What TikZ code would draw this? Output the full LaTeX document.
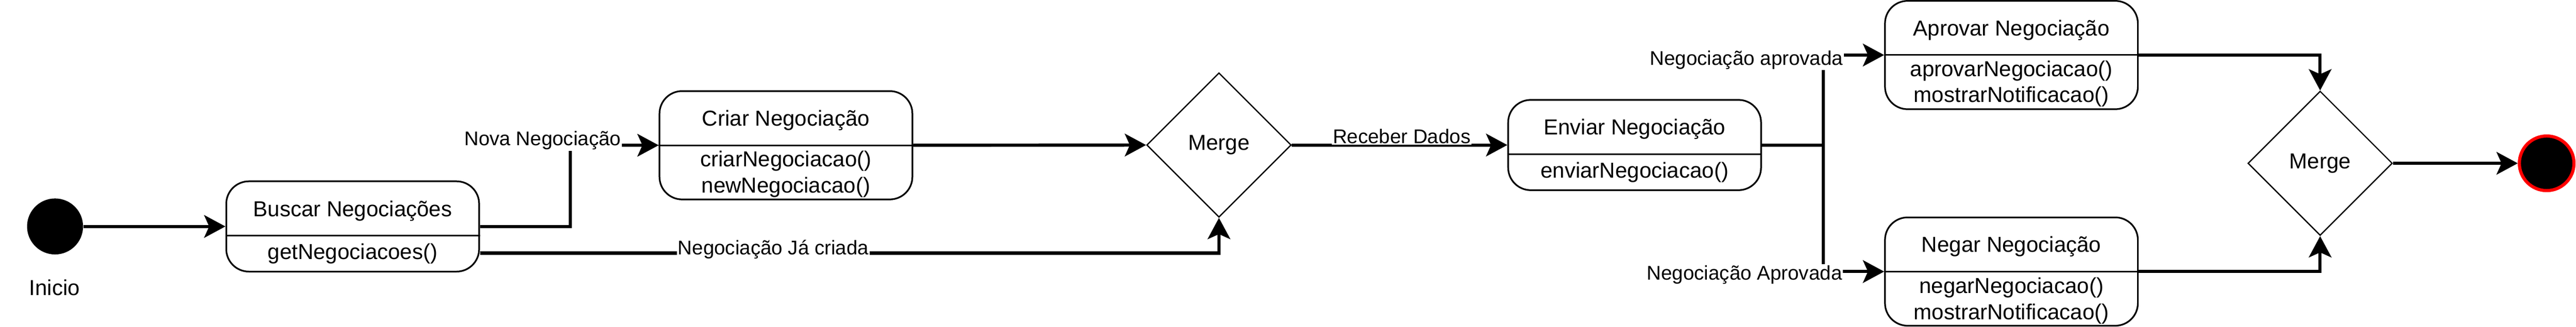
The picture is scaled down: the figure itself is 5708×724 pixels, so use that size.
\documentclass[tikz,border=0pt]{standalone}
\usepackage{fontspec}
\setmainfont{Liberation Sans}
\usepackage{tikz}
\usetikzlibrary{arrows.meta,shapes.geometric}

\begin{document}
\begin{tikzpicture}[x=0.01cm, y=-0.01cm, >={Stealth[length=0.47cm,width=0.5cm,inset=0.11cm]},
  estado/.style={draw, line width=1.05pt, rounded corners=0.5cm, minimum width=5.6cm, inner sep=0},
  divisa/.style={line width=0.95pt},
  merge/.style={draw, diamond, aspect=1, minimum width=3.2cm, minimum height=3.2cm, inner sep=0, line width=0.8pt, font=\fontsize{13.66}{16.4}\selectfont},
  texto/.style={anchor=base, inner sep=0, font=\fontsize{13.66}{16.4}\selectfont},
  rotulo/.style={anchor=base, fill=white, inner sep=0.02cm, font=\fontsize{12.5}{15}\selectfont},
  fluxo/.style={->, line width=2pt}]
  \useasboundingbox (0,0) rectangle (5708,724);

  % inicio
  \node[circle, fill=black, minimum size=1.24cm, inner sep=0] (ini) at (122,502) {};
  \node[texto] (iniT) at (121,655) {Inicio};

  % estados
  \node[estado, minimum height=2cm] (busca) at (781.5,502) {};
  \draw[divisa] (busca.west |- 0,522) -- (busca.east |- 0,522);
  \node[texto] (buscaT) at (781.5,480) {Buscar Negociações};
  \node[texto] (buscaM) at (781.5,575) {getNegociacoes()};

  \node[estado, minimum height=2.4cm] (cria) at (1741.5,322) {};
  \draw[divisa] (cria.west) -- (cria.east);
  \node[texto] (criaT) at (1741.5,279) {Criar Negociação};
  \node[texto] (criaM1) at (1741.5,369) {criarNegociacao()};
  \node[texto] (criaM2) at (1741.5,427) {newNegociacao()};

  \node[merge] (merge1) at (2701,321.5) {Merge};

  \node[estado, minimum height=2cm] (envia) at (3622,321.5) {};
  \draw[divisa] (envia.west |- 0,342) -- (envia.east |- 0,342);
  \node[texto] (enviaT) at (3622,299) {Enviar Negociação};
  \node[texto] (enviaM) at (3622,394) {enviarNegociacao()};

  \node[estado, minimum height=2.4cm] (aprova) at (4457,122) {};
  \draw[divisa] (aprova.west) -- (aprova.east);
  \node[texto] (aprovaT) at (4457,79) {Aprovar Negociação};
  \node[texto] (aprovaM1) at (4457,169) {aprovarNegociacao()};
  \node[texto] (aprovaM2) at (4457,227) {mostrarNotificacao()};

  \node[estado, minimum height=2.4cm] (nega) at (4457,602) {};
  \draw[divisa] (nega.west) -- (nega.east);
  \node[texto] (negaT) at (4457,559) {Negar Negociação};
  \node[texto] (negaM1) at (4457,650) {negarNegociacao()};
  \node[texto] (negaM2) at (4457,708) {mostrarNotificacao()};

  \node[merge] (merge2) at (5141,362) {Merge};

  % fim
  \node[circle, draw=red, fill=black, line width=2pt, minimum size=1.21cm, inner sep=0] (fim) at (5643,362) {};

  % fluxos
  \draw[fluxo] (ini.east) -- (busca.west);
  \draw[fluxo] (busca.east) -- ++(200,0) |- (cria.west);
  \draw[fluxo] ([yshift=-0.59cm]busca.east) -| (merge1.south);
  \draw[fluxo] (cria.east) -- (merge1.west);
  \draw[fluxo] (merge1.east) -- (envia.west);
  \draw[fluxo] (envia.east) -- ++(136,0) |- (aprova.west);
  \draw[fluxo] (envia.east) -- ++(136,0) |- (nega.west);
  \draw[fluxo] (aprova.east) -| (merge2.north);
  \draw[fluxo] (nega.east) -| (merge2.south);
  \draw[fluxo] (merge2.east) -- (fim.west);

  % rotulos
  \node[rotulo] (novaR) at (1202.5,323) {Nova Negociação};
  \node[rotulo] (criadaR) at (1713.5,565) {Negociação Já criada};
  \node[rotulo] (dadosR) at (3106,318) {Receber Dados};
  \node[rotulo] (aprovadaR) at (3870,144) {Negociação aprovada};
  \node[rotulo] (negadaR) at (3865.5,620) {Negociação Aprovada};
\end{tikzpicture}
\end{document}
